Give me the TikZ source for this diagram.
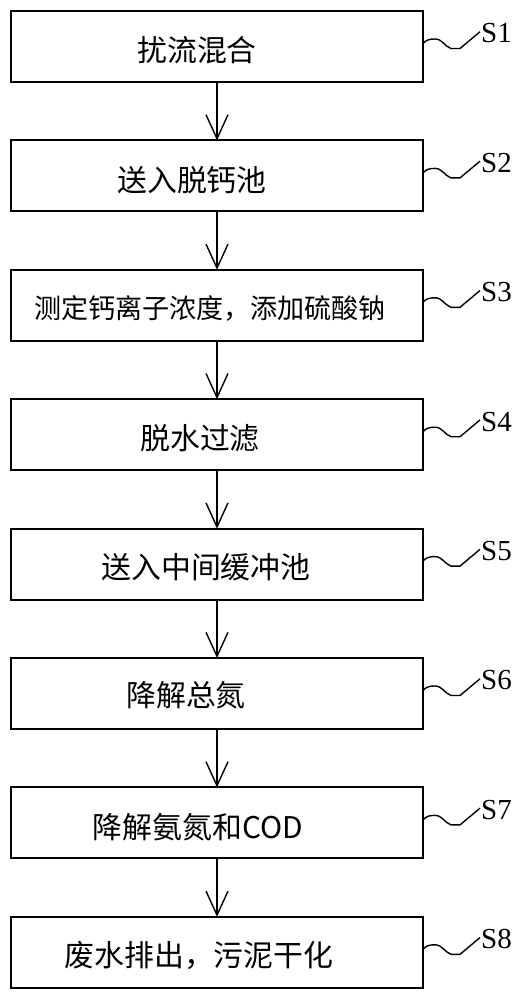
\documentclass[tikz,border=0pt]{standalone}
\usepackage{fontspec}
\setmainfont{Liberation Serif}
\newfontfamily\cjk{Noto Sans CJK SC}
\usetikzlibrary{arrows.meta, positioning}

\begin{document}
\begin{tikzpicture}[
    node distance=1.168cm,
    box/.style={draw, line width=1.1pt, outer sep=0pt, minimum width=8.24cm,
                minimum height=1.42cm},
    txt/.style={font=\cjk\fontsize{17}{20}\selectfont, inner sep=0pt},
    arr/.style={-{Straight Barb[length=4.8mm, width=4.4mm]}, line width=0.8pt},
    wave/.style={line width=0.8pt},
    tag/.style={font=\fontsize{16.5}{19}\selectfont, inner sep=0.5pt, anchor=west}
]
    \useasboundingbox (0,0) rectangle (10.62,-20);

    % process boxes
    \node[box] (s1) at (4.34,-0.93) {};
    \node[box, below=of s1] (s2) {};
    \node[box, below=of s2] (s3) {};
    \node[box, below=of s3] (s4) {};
    \node[box, below=of s4] (s5) {};
    \node[box, below=of s5] (s6) {};
    \node[box, below=of s6] (s7) {};
    \node[box, below=of s7] (s8) {};

    \node[txt] (t1) at ([xshift=-0.40cm, yshift=-0.08cm]s1.center) {扰流混合};
    \node[txt] (t2) at ([xshift=-0.50cm, yshift=-0.08cm]s2.center) {送入脱钙池};
    \node[txt, font=\cjk\fontsize{15.4}{18}\selectfont] (t3)
        at ([xshift=-0.14cm, yshift=-0.06cm]s3.center) {测定钙离子浓度，添加硫酸钠};
    \node[txt] (t4) at ([xshift=-0.34cm, yshift=-0.08cm]s4.center) {脱水过滤};
    \node[txt] (t5) at ([xshift=-0.22cm, yshift=-0.06cm]s5.center) {送入中间缓冲池};
    \node[txt] (t6) at ([xshift=-0.62cm, yshift=-0.04cm]s6.center) {降解总氮};
    \node[txt] (t7) at ([xshift=-0.38cm, yshift=-0.08cm]s7.center) {降解氨氮和COD};
    \node[txt] (t8) at ([xshift=-0.36cm, yshift=-0.06cm]s8.center) {废水排出，污泥干化};

    % step tags
    \node[tag] (l1) at ([xshift=1.14cm, yshift=0.26cm]s1.east) {S1};
    \node[tag] (l2) at ([xshift=1.14cm, yshift=0.26cm]s2.east) {S2};
    \node[tag] (l3) at ([xshift=1.14cm, yshift=0.26cm]s3.east) {S3};
    \node[tag] (l4) at ([xshift=1.14cm, yshift=0.26cm]s4.east) {S4};
    \node[tag] (l5) at ([xshift=1.14cm, yshift=0.26cm]s5.east) {S5};
    \node[tag] (l6) at ([xshift=1.14cm, yshift=0.26cm]s6.east) {S6};
    \node[tag] (l7) at ([xshift=1.14cm, yshift=0.26cm]s7.east) {S7};
    \node[tag] (l8) at ([xshift=1.14cm, yshift=0.26cm]s8.east) {S8};

    \draw[arr] (s1) -- (s2);
    \draw[arr] (s2) -- (s3);
    \draw[arr] (s3) -- (s4);
    \draw[arr] (s4) -- (s5);
    \draw[arr] (s5) -- (s6);
    \draw[arr] (s6) -- (s7);
    \draw[arr] (s7) -- (s8);

    \draw[wave] ([yshift=0.06cm]s1.east) to[out=50,in=180] ++(0.24,0.09) to[out=0,in=160] ++(0.32,-0.19) -- ++(0.18,0) -- ([yshift=1pt]l1.west);
    \draw[wave] ([yshift=0.06cm]s2.east) to[out=50,in=180] ++(0.24,0.09) to[out=0,in=160] ++(0.32,-0.19) -- ++(0.18,0) -- ([yshift=1pt]l2.west);
    \draw[wave] ([yshift=0.06cm]s3.east) to[out=50,in=180] ++(0.24,0.09) to[out=0,in=160] ++(0.32,-0.19) -- ++(0.18,0) -- ([yshift=1pt]l3.west);
    \draw[wave] ([yshift=0.06cm]s4.east) to[out=50,in=180] ++(0.24,0.09) to[out=0,in=160] ++(0.32,-0.19) -- ++(0.18,0) -- ([yshift=1pt]l4.west);
    \draw[wave] ([yshift=0.06cm]s5.east) to[out=50,in=180] ++(0.24,0.09) to[out=0,in=160] ++(0.32,-0.19) -- ++(0.18,0) -- ([yshift=1pt]l5.west);
    \draw[wave] ([yshift=0.06cm]s6.east) to[out=50,in=180] ++(0.24,0.09) to[out=0,in=160] ++(0.32,-0.19) -- ++(0.18,0) -- ([yshift=1pt]l6.west);
    \draw[wave] ([yshift=0.06cm]s7.east) to[out=50,in=180] ++(0.24,0.09) to[out=0,in=160] ++(0.32,-0.19) -- ++(0.18,0) -- ([yshift=1pt]l7.west);
    \draw[wave] ([yshift=0.06cm]s8.east) to[out=50,in=180] ++(0.24,0.09) to[out=0,in=160] ++(0.32,-0.19) -- ++(0.18,0) -- ([yshift=1pt]l8.west);
\end{tikzpicture}
\end{document}
